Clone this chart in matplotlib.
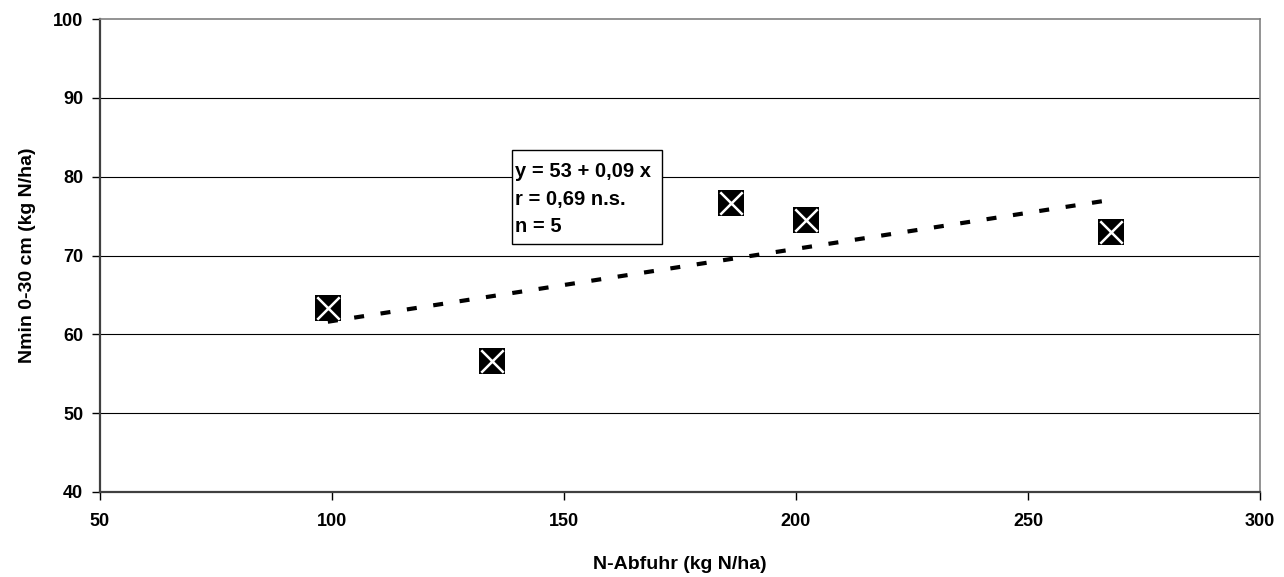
import matplotlib
matplotlib.use("Agg")
import matplotlib.pyplot as plt
from matplotlib.patches import Rectangle
import numpy as np

plt.rcParams['font.family'] = ['Liberation Sans', 'DejaVu Sans']

x_vals = [99.1, 134.5, 186.0, 202.2, 267.9]
y_vals = [63.3, 56.6, 76.7, 74.5, 73.0]
x_ticks = [50, 100, 150, 200, 250, 300]
y_ticks = [40, 50, 60, 70, 80, 90, 100]
box_lines = ["y = 53 + 0,09 x", "r = 0,69 n.s.", "n = 5"]

fig = plt.figure(figsize=(12.84, 5.77), dpi=100)
ax = fig.add_axes([100/1284, 1-492/577, 1160/1284, 473/577])
ax.set_xlim(50, 300)
ax.set_ylim(40, 100)

for yv in y_ticks[1:-1]:
    ax.axhline(yv, color='black', lw=0.8, zorder=1)

# trend line
coef = np.polyfit(x_vals, y_vals, 1)
xl = np.array([min(x_vals), max(x_vals)])
ax.plot(xl, np.polyval(coef, xl), color='black', lw=3.0, ls=(0, (2.4, 4.0)), zorder=2)

ax.scatter(x_vals, y_vals, marker='s', s=325, color='black', zorder=3, linewidths=0)
ax.scatter(x_vals, y_vals, marker='x', s=260, color='white', zorder=4, linewidths=1.8)

ax.set_xticks(x_ticks)
ax.set_yticks(y_ticks)
ax.tick_params(axis='both', direction='out', length=6, width=1, labelsize=13, colors='black')
for lab in ax.get_xticklabels() + ax.get_yticklabels():
    lab.set_fontweight('bold')
ax.tick_params(axis='x', pad=9)
ax.tick_params(axis='y', pad=6)

for s in ['left', 'bottom']:
    ax.spines[s].set_color('#404040')
    ax.spines[s].set_linewidth(1.6)
for s in ['right', 'top']:
    ax.spines[s].set_color('#808080')
    ax.spines[s].set_linewidth(1.2)

ax.set_xlabel("N-Abfuhr (kg N/ha)", fontsize=14, fontweight='bold', labelpad=19)
ax.set_ylabel("Nmin 0-30 cm (kg N/ha)", fontsize=14, fontweight='bold', labelpad=12)

# annotation box
ax.add_patch(Rectangle((138.8, 71.45), 32.3, 11.95, facecolor='white', edgecolor='black',
                       linewidth=1, zorder=5))
for i, line in enumerate(box_lines):
    ax.text(139.4, 80.6 - i * 3.45, line, fontsize=14.5, fontweight='bold',
            va='center', ha='left', zorder=6)

fig.savefig("out.png", dpi=100)
